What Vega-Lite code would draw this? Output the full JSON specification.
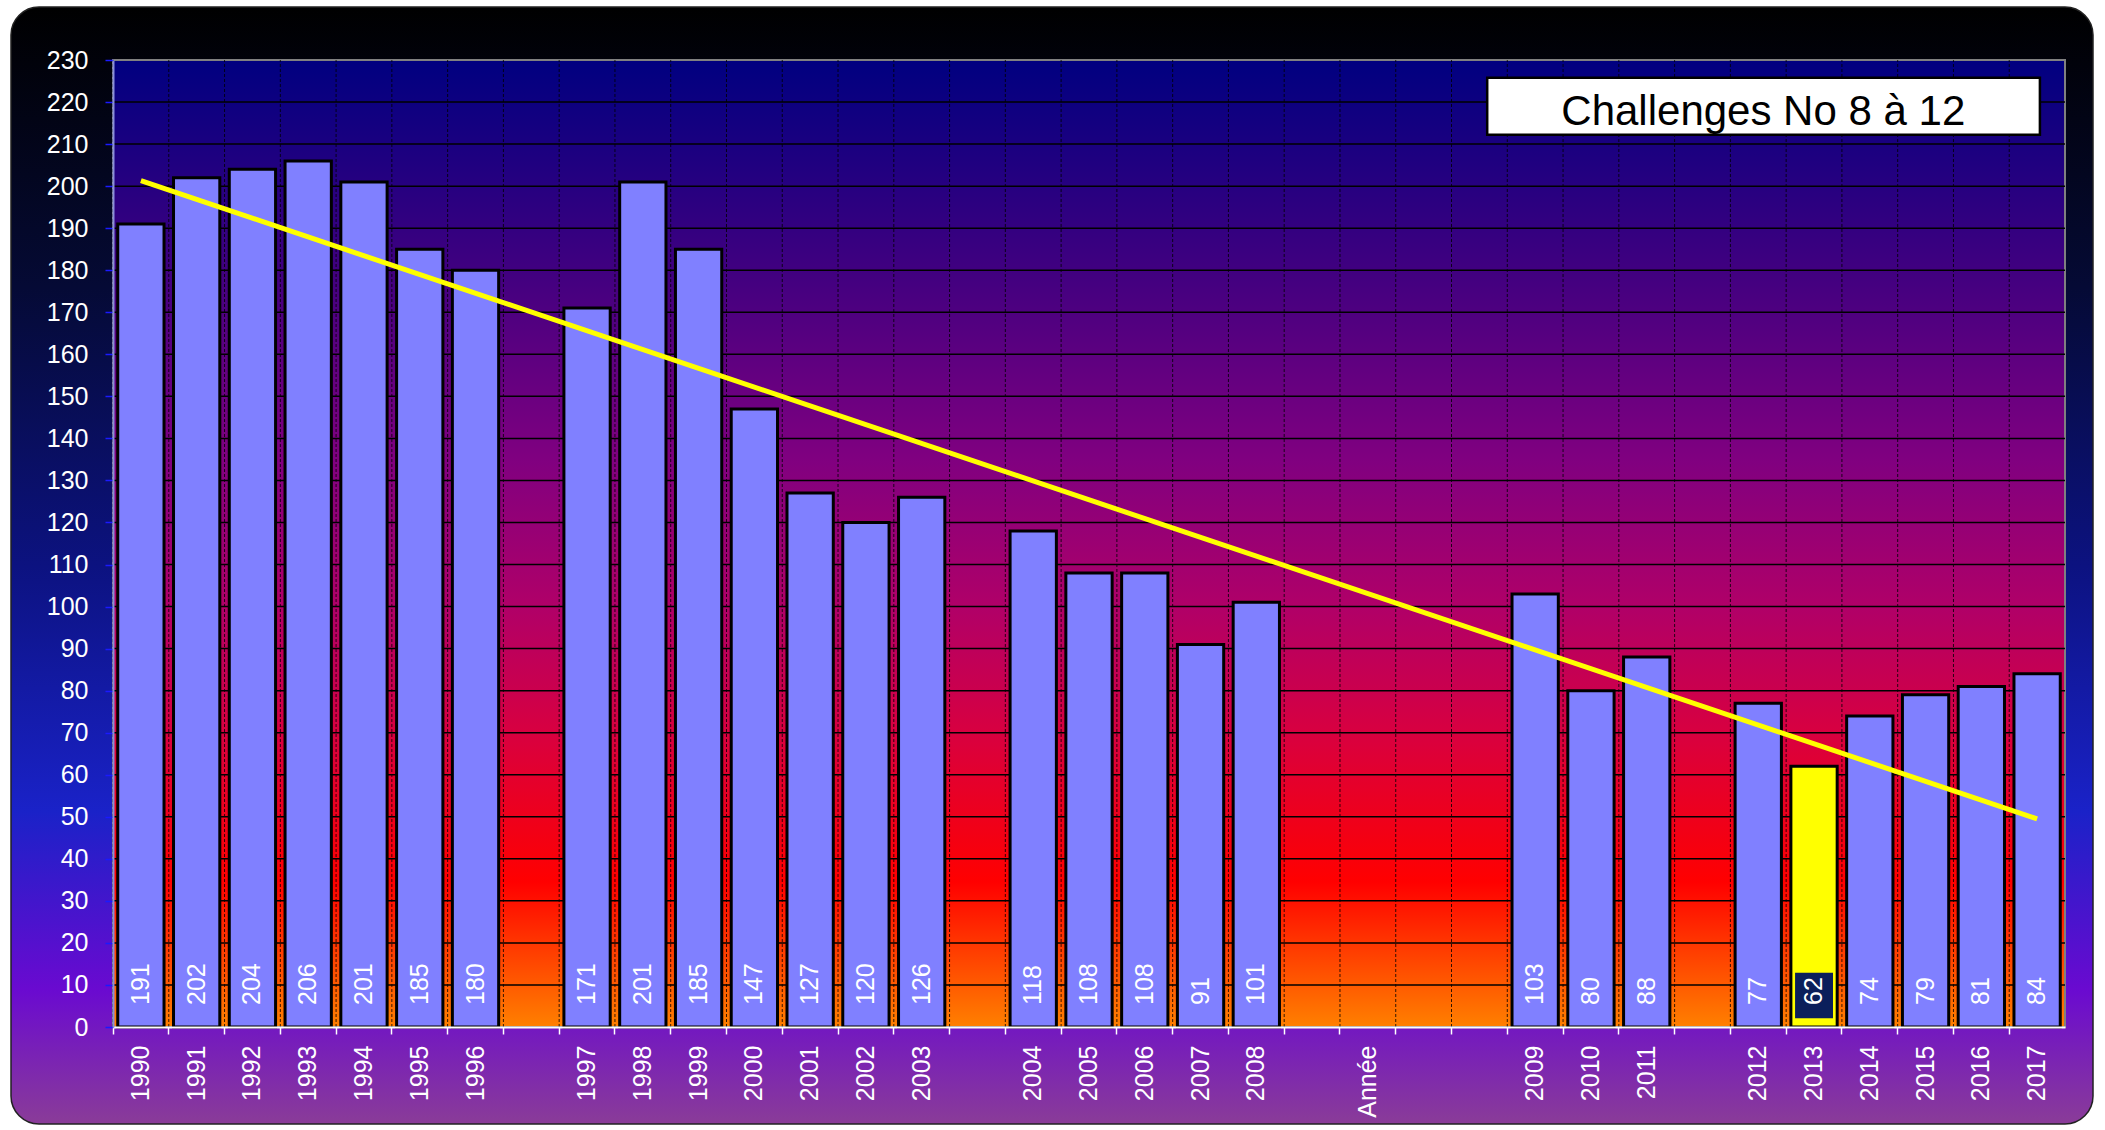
{
  "$schema": "https://vega.github.io/schema/vega-lite/v6.json",
  "width": 2082,
  "height": 1117,
  "autosize": {"type": "none"},
  "padding": {"left": 11, "top": 7, "right": 12, "bottom": 6},
  "background": "white",
  "view": {
    "fill": {"gradient": "linear", "x1": 0, "y1": 0, "x2": 0, "y2": 1,
      "stops": [
        {"offset": 0, "color": "#000000"},
        {"offset": 0.25, "color": "#050a35"},
        {"offset": 0.5, "color": "#0c1280"},
        {"offset": 0.72, "color": "#1a22c8"},
        {"offset": 0.88, "color": "#6a0ad0"},
        {"offset": 1, "color": "#8a3c98"}
      ]},
    "stroke": "#222222",
    "strokeWidth": 1.5,
    "cornerRadius": 28
  },
  "config": {"font": "Liberation Sans"},
  "datasets": {
    "main": [
      {"cat": "1990", "v": 191}, {"cat": "1991", "v": 202}, {"cat": "1992", "v": 204},
      {"cat": "1993", "v": 206}, {"cat": "1994", "v": 201}, {"cat": "1995", "v": 185},
      {"cat": "1996", "v": 180}, {"cat": "_a", "v": null}, {"cat": "1997", "v": 171},
      {"cat": "1998", "v": 201}, {"cat": "1999", "v": 185}, {"cat": "2000", "v": 147},
      {"cat": "2001", "v": 127}, {"cat": "2002", "v": 120}, {"cat": "2003", "v": 126},
      {"cat": "_b", "v": null}, {"cat": "2004", "v": 118}, {"cat": "2005", "v": 108},
      {"cat": "2006", "v": 108}, {"cat": "2007", "v": 91}, {"cat": "2008", "v": 101},
      {"cat": "_c", "v": null}, {"cat": "Année", "v": null}, {"cat": "_d", "v": null},
      {"cat": "_e", "v": null}, {"cat": "2009", "v": 103}, {"cat": "2010", "v": 80},
      {"cat": "2011", "v": 88}, {"cat": "_f", "v": null}, {"cat": "2012", "v": 77},
      {"cat": "2013", "v": 62}, {"cat": "2014", "v": 74}, {"cat": "2015", "v": 79},
      {"cat": "2016", "v": 81}, {"cat": "2017", "v": 84}
    ],
    "trend": [
      {"cat": "1990", "trend": 201.3},
      {"cat": "2017", "trend": 49.5}
    ],
    "grid": [
      {"g": 10}, {"g": 20}, {"g": 30}, {"g": 40}, {"g": 50}, {"g": 60}, {"g": 70}, {"g": 80},
      {"g": 90}, {"g": 100}, {"g": 110}, {"g": 120}, {"g": 130}, {"g": 140}, {"g": 150},
      {"g": 160}, {"g": 170}, {"g": 180}, {"g": 190}, {"g": 200}, {"g": 210}, {"g": 220}
    ],
    "legend": [
      {"label": "Challenges No 8 à 12"}
    ]
  },
  "layer": [
    {
      "data": {"values": [{"one": 1}]},
      "mark": {"type": "rect", "stroke": "#808080", "strokeWidth": 2,
        "color": {"gradient": "linear", "x1": 0, "y1": 0, "x2": 0, "y2": 1,
          "stops": [
            {"offset": 0, "color": "#000080"},
            {"offset": 0.217, "color": "#400080"},
            {"offset": 0.413, "color": "#800080"},
            {"offset": 0.565, "color": "#b00068"},
            {"offset": 0.696, "color": "#d80040"},
            {"offset": 0.85, "color": "#ff0000"},
            {"offset": 1, "color": "#ff8000"}
          ]}},
      "encoding": {
        "x": {"datum": "1990", "type": "nominal", "bandPosition": 0, "title": null,
          "scale": {"domain": ["1990","1991","1992","1993","1994","1995","1996","_a","1997","1998","1999","2000","2001","2002","2003","_b","2004","2005","2006","2007","2008","_c","Année","_d","_e","2009","2010","2011","_f","2012","2013","2014","2015","2016","2017"],
            "range": [102, 2054], "paddingInner": 0, "paddingOuter": 0},
          "axis": {"bandPosition": 0, "labelOffset": 0, "labelAngle": 270, "labelAlign": "right", "labelBaseline": "middle",
            "labelFontSize": 25, "labelColor": "white", "tickColor": "white", "tickSize": 7, "tickWidth": 1.5,
            "domainColor": "white", "domainWidth": 2, "labelPadding": 11, "offset": -97, "grid": false,
            "zindex": 1, "labelOverlap": false, "title": null,
            "labelExpr": "slice(datum.label, 0, 1) == '_' ? '' : datum.label"}},
        "x2": {"datum": "2017", "bandPosition": 1},
        "y": {"datum": 0, "type": "quantitative", "title": null,
          "scale": {"domain": [0, 230], "range": [1020, 53], "nice": false, "zero": true},
          "axis": {"values": [0,10,20,30,40,50,60,70,80,90,100,110,120,130,140,150,160,170,180,190,200,210,220,230],
            "labelFontSize": 25, "labelColor": "white", "tickColor": "#1a1aff", "tickSize": 8, "tickWidth": 1.5,
            "domainColor": "#8a90d8", "domainWidth": 2, "labelPadding": 17, "offset": -102, "grid": false,
            "zindex": 1, "title": null}},
        "y2": {"datum": 230}
      }
    },
    {
      "data": {"name": "grid"},
      "mark": {"type": "rule", "color": "#000000", "strokeWidth": 1.5},
      "encoding": {
        "x": {"datum": "1990", "type": "nominal", "bandPosition": 0, "title": null},
        "x2": {"datum": "2017", "bandPosition": 1},
        "y": {"field": "g", "type": "quantitative", "title": null}
      }
    },
    {
      "data": {"name": "main"},
      "mark": {"type": "rule", "color": "#000000", "strokeWidth": 1, "strokeDash": [3, 2], "opacity": 0.8},
      "encoding": {
        "x": {"field": "cat", "type": "nominal", "bandPosition": 0, "title": null},
        "y": {"datum": 0, "type": "quantitative", "title": null},
        "y2": {"datum": 230}
      }
    },
    {
      "data": {"name": "main"},
      "transform": [{"filter": "isValid(datum.v)"}],
      "mark": {"type": "bar", "stroke": "#000000", "strokeWidth": 3, "width": {"band": 0.83}},
      "encoding": {
        "x": {"field": "cat", "type": "nominal", "title": null},
        "y": {"field": "v", "type": "quantitative", "title": null},
        "fill": {"condition": {"test": "datum.cat == '2013'", "value": "#ffff00"}, "value": "#8080ff"}
      }
    },
    {
      "data": {"name": "main"},
      "transform": [{"filter": "datum.cat == '2013'"}],
      "mark": {"type": "bar", "color": "#0b1f5b", "width": {"band": 0.68}},
      "encoding": {
        "x": {"field": "cat", "type": "nominal", "title": null},
        "y": {"datum": 2.1, "type": "quantitative", "title": null},
        "y2": {"datum": 12.9}
      }
    },
    {
      "data": {"name": "main"},
      "transform": [{"filter": "isValid(datum.v)"}],
      "mark": {"type": "text", "angle": 270, "align": "left", "baseline": "middle", "dx": 22, "fontSize": 25, "color": "white"},
      "encoding": {
        "x": {"field": "cat", "type": "nominal", "title": null},
        "y": {"datum": 0, "type": "quantitative", "title": null},
        "text": {"field": "v", "type": "quantitative"}
      }
    },
    {
      "data": {"name": "trend"},
      "mark": {"type": "line", "strokeWidth": 5, "color": "#ffff00"},
      "encoding": {
        "x": {"field": "cat", "type": "nominal", "title": null},
        "y": {"field": "trend", "type": "quantitative", "title": null}
      }
    },
    {
      "data": {"name": "legend"},
      "mark": {"type": "rect", "fill": "white", "stroke": "black", "strokeWidth": 2.5},
      "encoding": {
        "x": {"datum": "_e", "type": "nominal", "bandPosition": 0.64, "title": null},
        "x2": {"datum": "2017", "bandPosition": 0.55},
        "y": {"datum": 212.2, "type": "quantitative", "title": null},
        "y2": {"datum": 225.8}
      }
    },
    {
      "data": {"name": "legend"},
      "mark": {"type": "text", "fontSize": 42, "color": "black", "align": "center", "baseline": "alphabetic"},
      "encoding": {
        "x": {"datum": "2012", "type": "nominal", "bandPosition": 0.59, "title": null},
        "y": {"datum": 214.6, "type": "quantitative", "title": null},
        "text": {"field": "label", "type": "nominal"}
      }
    }
  ]
}
